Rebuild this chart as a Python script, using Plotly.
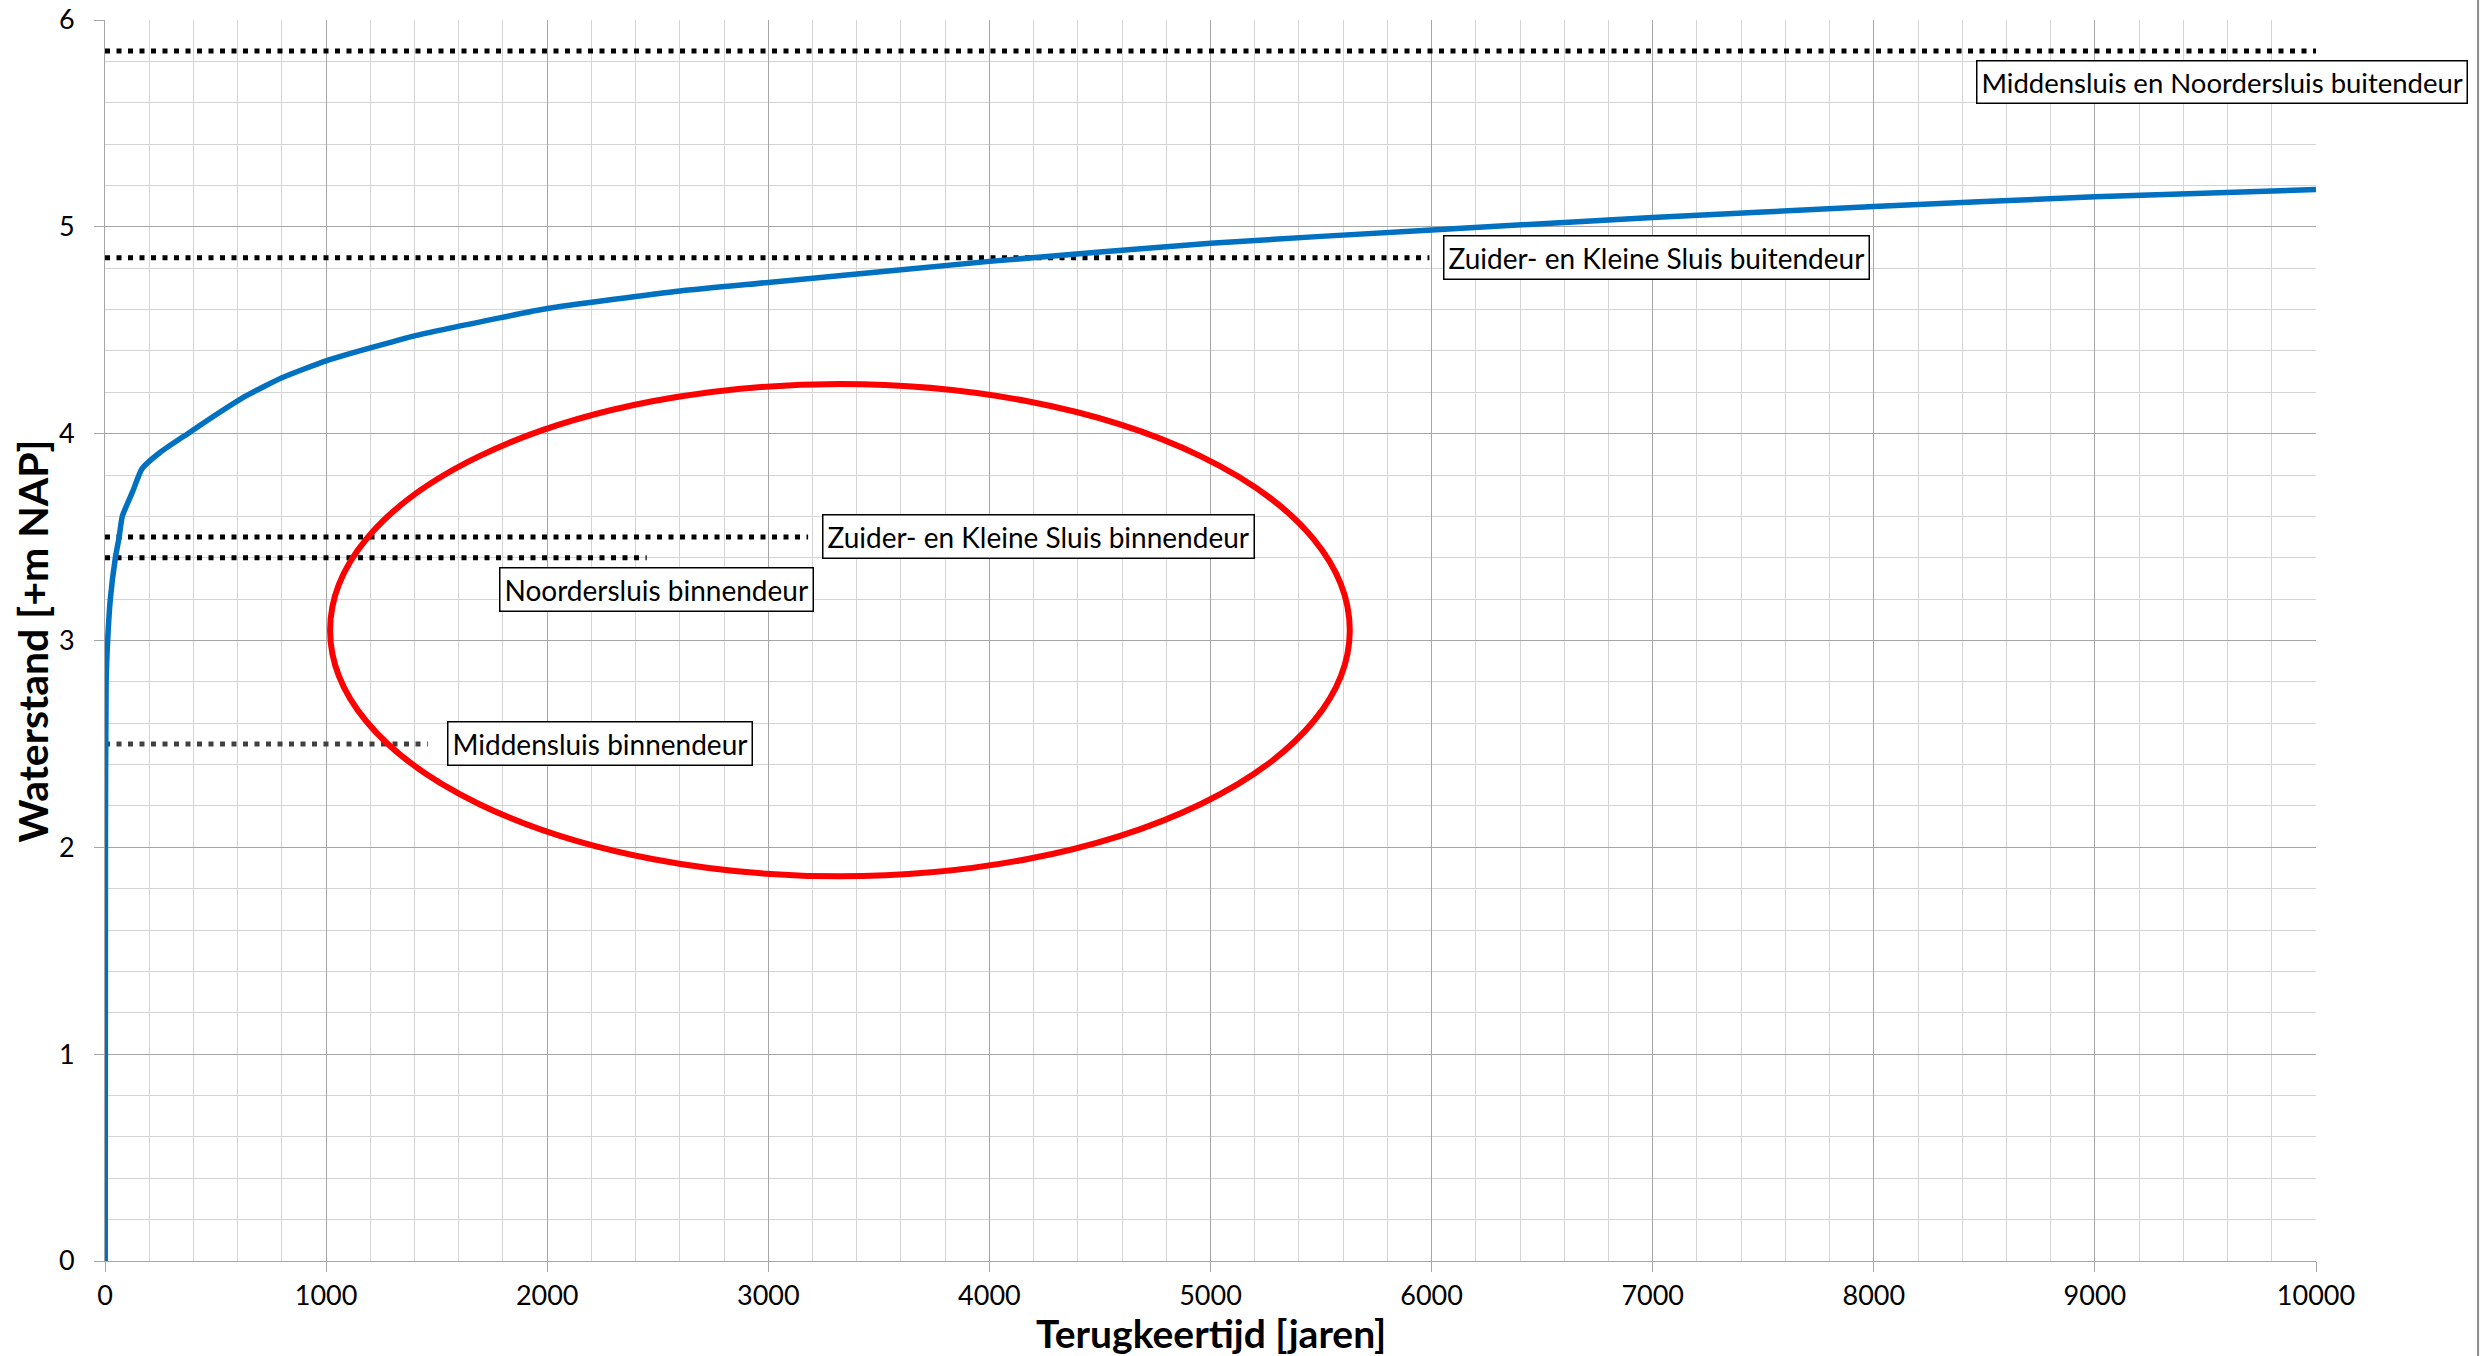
import plotly.graph_objects as go

# ---- data ----
return_period = [1, 2, 5, 12, 24, 47, 64, 78, 125, 167, 250, 374, 500, 633, 800,
                 1000, 1400, 1800, 2000, 2600, 3000, 4000, 5000, 6000, 7000, 8000, 9000, 10000]
water_level = [0.0, 2.0, 2.8, 3.0, 3.2, 3.4, 3.5, 3.6, 3.72, 3.83, 3.91, 4.0, 4.09, 4.18, 4.27,
               4.352, 4.473, 4.563, 4.605, 4.69, 4.731, 4.833, 4.921, 4.985, 5.045, 5.098, 5.145, 5.18]

ref_labels = ["Middensluis en Noordersluis buitendeur",
              "Zuider- en Kleine Sluis buitendeur",
              "Zuider- en Kleine Sluis binnendeur",
              "Noordersluis binnendeur",
              "Middensluis binnendeur"]
ref_levels = [5.85, 4.85, 3.5, 3.4, 2.5]
ref_line_end = [10000, 5990, 3180, 2450, 1460]
ref_colors = ["#000000", "#000000", "#000000", "#000000", "#404040"]
label_x = [8462, 6050, 3245, 1780, 1548]
label_y = [5.70, 4.853, 3.503, 3.247, 2.50]
label_size = [27.5, 28, 28, 28, 28]

ellipse_x = [1018, 5630]
ellipse_y = [1.86, 4.24]

x_title = "Terugkeertijd [jaren]"
y_title = "Waterstand [+m NAP]"

FONT = "Lato"

fig = go.Figure()

# reference levels (dotted)
for lvl, xend, col in zip(ref_levels, ref_line_end, ref_colors):
    fig.add_trace(go.Scatter(
        x=[0, xend], y=[lvl, lvl], mode="lines",
        line=dict(color=col, width=5, dash="5px,6.5px"),
        hoverinfo="skip", showlegend=False))

# water level curve
fig.add_trace(go.Scatter(
    x=return_period, y=water_level, mode="lines",
    line=dict(color="#0070C0", width=5.5, shape="spline", smoothing=0.5),
    showlegend=False))

# red ellipse
fig.add_shape(type="circle", xref="x", yref="y",
              x0=ellipse_x[0], x1=ellipse_x[1], y0=ellipse_y[0], y1=ellipse_y[1],
              line=dict(color="#FF0000", width=6))

# chart right border
fig.add_shape(type="line", xref="paper", yref="paper",
              x0=1.0733, x1=1.0733, y0=-0.08, y1=1.02,
              line=dict(color="#8c8c8c", width=2))

for txt, xx, yy, fs in zip(ref_labels, label_x, label_y, label_size):
    fig.add_annotation(x=xx, y=yy, xref="x", yref="y", text=txt, showarrow=False,
                       xanchor="left", yanchor="middle",
                       font=dict(family=FONT, size=fs, color="black"),
                       bgcolor="white", bordercolor="black", borderwidth=1.5, borderpad=4)

fig.add_annotation(x=0.5, y=-0.0580, xref="paper", yref="paper", text="<b>" + x_title + "</b>",
                   showarrow=False, xanchor="center", yanchor="middle",
                   font=dict(family=FONT, size=39, color="black"))
fig.add_annotation(x=-0.0326, y=0.5, xref="paper", yref="paper", text="<b>" + y_title + "</b>",
                   showarrow=False, xanchor="center", yanchor="middle", textangle=-90,
                   font=dict(family=FONT, size=41, color="black"))

axis_common = dict(
    showgrid=True, gridcolor="#a6a6a6", gridwidth=1,
    ticks="outside", ticklen=10, tickcolor="#a6a6a6", tickwidth=1,
    showline=True, linecolor="#a6a6a6", linewidth=1,
    zeroline=False, automargin=False, tickformat="d",
    ticklabeloverflow="allow",
    tickfont=dict(family=FONT, size=27, color="black"),
)

fig.update_xaxes(range=[0, 10000], tick0=0, dtick=1000,
                 minor=dict(dtick=200, showgrid=True, gridcolor="#d4d4d4", gridwidth=1),
                 ticklabelstandoff=1, **axis_common)
fig.update_yaxes(range=[0, 6], tick0=0, dtick=1,
                 minor=dict(dtick=0.2, showgrid=True, gridcolor="#d4d4d4", gridwidth=1),
                 ticklabelstandoff=14, **axis_common)

fig.update_layout(
    width=2489, height=1356,
    margin=dict(l=105, r=173, t=20, b=95),
    paper_bgcolor="white", plot_bgcolor="white",
    font=dict(family=FONT, color="black"),
    showlegend=False,
)

# remove the default page margin so the figure fills the window exactly
fig.write_html("out.html",
               config={"displayModeBar": False},
               post_script="document.body.style.margin='0';document.body.style.overflow='hidden';")
